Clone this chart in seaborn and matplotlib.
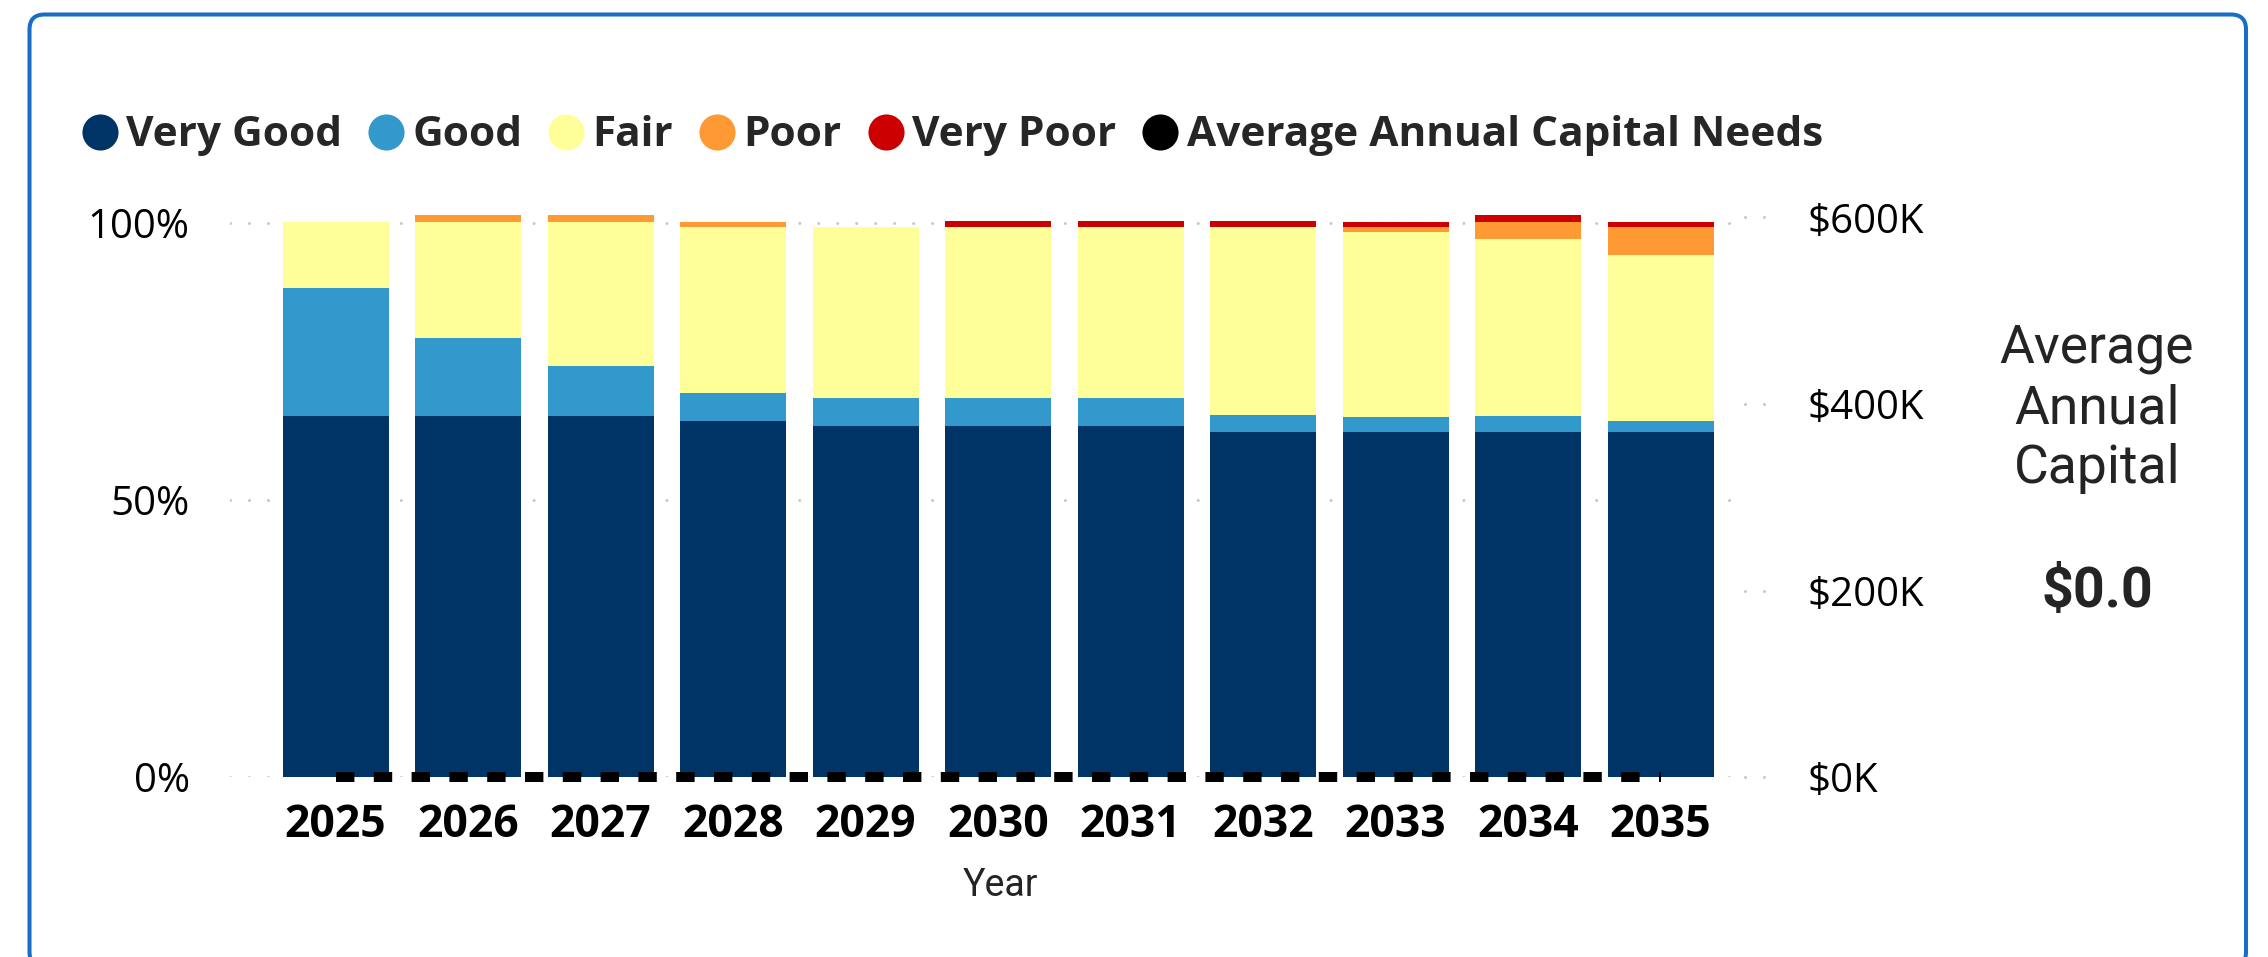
import numpy as np
import pandas as pd
import matplotlib
matplotlib.use("Agg")
import matplotlib.pyplot as plt
import seaborn as sns
from matplotlib.lines import Line2D
from matplotlib.patches import FancyBboxPatch

# Data (percent of inventory by condition)
years = ['2025', '2026', '2027', '2028', '2029', '2030', '2031', '2032', '2033', '2034', '2035']
very_good = [65.2, 65.2, 65.2, 64.2, 63.3, 63.3, 63.3, 62.2, 62.2, 62.2, 62.2]
good = [23.0, 14.0, 8.9, 5.1, 5.1, 5.1, 5.1, 3.1, 2.8, 3.0, 2.0]
fair = [12.0, 21.0, 26.1, 29.9, 30.9, 30.8, 30.8, 33.9, 33.3, 32.0, 30.1]
poor = [0.0, 1.2, 1.2, 1.0, 0.0, 0.1, 0.1, 0.1, 0.9, 3.0, 4.9]
very_poor = [0.0, 0.0, 0.0, 0.0, 0.0, 1.0, 1.0, 1.0, 1.0, 1.2, 1.0]
avg_needs = [0, 0, 0, 0, 0, 0, 0, 0, 0, 0, 0]  # dollars

conditions = ['Very Good', 'Good', 'Fair', 'Poor', 'Very Poor']
colors = ['#003366', '#3399cc', '#ffff99', '#ff9933', '#cc0000']
pct_ticks = [0, 50, 100]
dollar_ticks = [0, 200000, 400000, 600000]
avg_capital_text = '$0.0'

df = pd.DataFrame({'Very Good': very_good, 'Good': good, 'Fair': fair,
                   'Poor': poor, 'Very Poor': very_poor}, index=years)
cum = df.cumsum(axis=1)

sns.set_style('white')
plt.rcParams['font.family'] = ['Open Sans', 'DejaVu Sans']

W, H = 2268, 957
fig = plt.figure(figsize=(W / 100, H / 100), dpi=100)

# card border
card = FancyBboxPatch((0.295, -0.10), 22.165, 9.525,
                      boxstyle='round,pad=0,rounding_size=0.15',
                      transform=fig.dpi_scale_trans, facecolor='white',
                      edgecolor='#1a6dc6', linewidth=2.9, zorder=0)
fig.add_artist(card)

ax_l, ax_r, ax_b, ax_t = 230, 1745, 777, 200
ax = fig.add_axes([ax_l / W, 1 - ax_b / H, (ax_r - ax_l) / W, (ax_b - ax_t) / H])
ax.patch.set_alpha(0)

# stacked bars: draw cumulative layers from the top down
for cond, col in reversed(list(zip(conditions, colors))):
    sns.barplot(x=years, y=cum[cond].values, color=col, saturation=1,
                width=0.8, errorbar=None, linewidth=0, ax=ax, zorder=2)

n = len(years)
pitch = 132.5
ax.set_ylim(0, (ax_b - ax_t) / 554 * 100)
ax.set_yticks(pct_ticks)
ax.set_yticklabels([f'{t}%' for t in pct_ticks])
ax.yaxis.grid(True, color='#c8c8c8', linewidth=2.2,
              linestyle=(0, (0.01, 6.2)), dash_capstyle='round')
ax.xaxis.grid(False)
ax.set_axisbelow(True)
ax.tick_params(axis='y', length=0, pad=29, labelsize=29, labelcolor='#000000')
ax.tick_params(axis='x', length=0, pad=18.5, labelsize=32, labelcolor='#000000')
for lab in ax.get_xticklabels():
    lab.set_fontweight('bold')
ax.set_ylabel('')
ax.set_xlabel('Year', fontsize=27, color='#252423', family=['Roboto', 'DejaVu Sans'],
              labelpad=14)
ax.xaxis.label.set_x((1000 - ax_l) / (ax_r - ax_l))
for s in ax.spines.values():
    s.set_visible(False)

# secondary axis: average annual capital needs
ax2 = ax.twinx()
sns.lineplot(x=np.arange(n), y=avg_needs, ax=ax2, color='black', linewidth=7.2,
             linestyle=(0, (1.84, 1.94)), clip_on=False, zorder=5)
ax2.set_ylim(0, (ax_b - ax_t) / 559.5 * 600000)
ax2.set_yticks(dollar_ticks)
ax2.set_yticklabels([f'${t // 1000}K' for t in dollar_ticks])
ax2.tick_params(axis='y', length=0, pad=45, labelsize=29, labelcolor='#000000')
ax2.hlines(dollar_ticks, 1.0, 1 + 25 / (ax_r - ax_l), transform=ax2.get_yaxis_transform(),
           colors='#c8c8c8', linewidth=2.2, linestyles=(0, (0.01, 6.2)),
           capstyle='round', clip_on=False)
ax2.set_ylabel('')
ax2.grid(False)
for s in ax2.spines.values():
    s.set_visible(False)
ax.set_xlim((ax_l - 335.5) / pitch, (ax_r - 335.5) / pitch)

# legend
handles = [Line2D([], [], marker='o', linestyle='none', markersize=26,
                  markerfacecolor=c, markeredgewidth=0) for c in colors + ['#000000']]
labels = conditions + ['Average Annual Capital Needs']
fig.legend(handles, labels, loc='center left', bbox_to_anchor=(82 / W, 1 - 136 / H),
           ncol=6, frameon=False, prop={'size': 30.5, 'weight': 'bold'},
           handlelength=0.84, handletextpad=0.2, columnspacing=0.62,
           borderaxespad=0, borderpad=0)

# right-hand card with the average value
cx = 2097 / W
for txt, base in zip(['Average', 'Annual', 'Capital'], [363, 424, 483]):
    fig.text(cx, 1 - base / H, txt, ha='center', va='baseline', fontsize=38.5,
             color='#252423', family=['Roboto', 'DejaVu Sans'])
fig.text(cx, 1 - 607 / H, avg_capital_text, ha='center', va='baseline', fontsize=40,
         fontweight='bold', color='#252423', family=['Roboto', 'DejaVu Sans'])

fig.savefig('out.png', dpi=100)
